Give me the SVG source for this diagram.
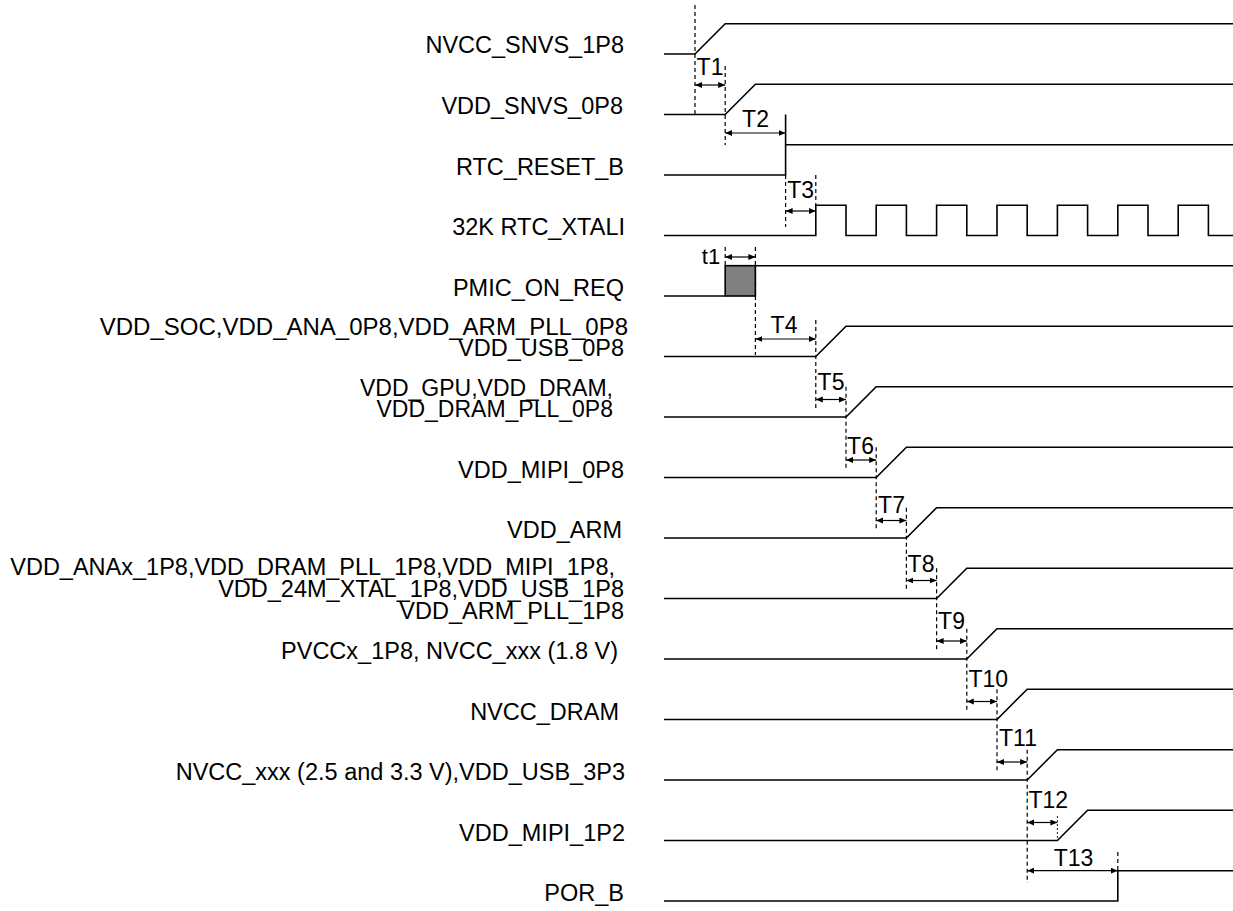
<svg xmlns="http://www.w3.org/2000/svg" width="1233" height="911" viewBox="0 0 1233 911">
<style>
.bg{fill:#ffffff}
.lbl{font-family:"Liberation Sans",Arial,sans-serif;font-size:23.5px;fill:#000;text-anchor:end}
.tl{font-family:"Liberation Sans",Arial,sans-serif;font-size:23px;fill:#000;text-anchor:middle}
.tls{font-family:"Liberation Sans",Arial,sans-serif;font-size:23px;fill:#000;text-anchor:start}
.sig{fill:none;stroke:#000;stroke-width:1.6}
.dash{fill:none;stroke:#000;stroke-width:1.2;stroke-dasharray:4 3}
.dot{fill:none;stroke:#000;stroke-width:0.9;stroke-dasharray:2 2}
.arr{fill:none;stroke:#000;stroke-width:1.2;marker-start:url(#ah);marker-end:url(#ah)}
.pulse{fill:#808080;stroke:#000;stroke-width:1.6}
</style>
<defs>
<marker id="ah" markerUnits="userSpaceOnUse" markerWidth="8" markerHeight="7" refX="7" refY="3" orient="auto-start-reverse">
<path d="M0,0 L7,3 L0,6 z" fill="#000"/>
</marker>
</defs>
<rect class="bg" x="0" y="0" width="1233" height="911"/>

<g id="NVCC_SNVS_1P8">
<text class="lbl" x="624" y="53">NVCC_SNVS_1P8</text>
<path class="sig" d="M664,54 H695 L725.2,23.7 H1233"/>
</g>
<g id="VDD_SNVS_0P8">
<text class="lbl" x="623" y="113.5">VDD_SNVS_0P8</text>
<path class="sig" d="M664,114.5 H725.2 L755.4,84.2 H1233"/>
</g>
<g id="RTC_RESET_B">
<text class="lbl" x="624" y="174.5">RTC_RESET_B</text>
<path class="sig" d="M664,175 H785.6 V114.5 M785.6,144.7 H1233"/>
</g>
<g id="RTC_XTALI">
<text class="lbl" x="625" y="235">32K RTC_XTALI</text>
<path class="sig" d="M664,235.5 H815.8 V205.2 H846 V235.5 H876.2 V205.2 H906.4 V235.5 H936.6 V205.2 H966.8 V235.5 H997 V205.2 H1027.2 V235.5 H1057.4 V205.2 H1087.6 V235.5 H1117.8 V205.2 H1148 V235.5 H1178.2 V205.2 H1208.4 V235.5 H1233"/>
</g>
<g id="PMIC_ON_REQ">
<text class="lbl" x="624" y="295.5">PMIC_ON_REQ</text>
<path class="sig" d="M664,296 H725.2"/>
<rect class="pulse" x="725.2" y="265.7" width="30.2" height="30.3"/>
<path class="sig" d="M755.4,265.7 H1233"/>
</g>
<g id="VDD_SOC">
<text class="lbl" x="628" y="335" style="font-size:24px">VDD_SOC,VDD_ANA_0P8,VDD_ARM_PLL_0P8</text>
<text class="lbl" x="624" y="356">VDD_USB_0P8</text>
<path class="sig" d="M664,356.5 H815.8 L846,326.2 H1233"/>
</g>
<g id="VDD_GPU">
<text class="lbl" x="613" y="395.5" style="font-size:23px">VDD_GPU,VDD_DRAM,</text>
<text class="lbl" x="613" y="417" style="font-size:23px">VDD_DRAM_PLL_0P8</text>
<path class="sig" d="M664,417 H846 L876.2,386.7 H1233"/>
</g>
<g id="VDD_MIPI_0P8">
<text class="lbl" x="624" y="477.5">VDD_MIPI_0P8</text>
<path class="sig" d="M664,477.5 H876.2 L906.4,447.2 H1233"/>
</g>
<g id="VDD_ARM">
<text class="lbl" x="622" y="538">VDD_ARM</text>
<path class="sig" d="M664,538 H906.4 L936.6,507.7 H1233"/>
</g>
<g id="VDD_1P8">
<text class="lbl" x="615" y="575">VDD_ANAx_1P8,VDD_DRAM_PLL_1P8,VDD_MIPI_1P8,</text>
<text class="lbl" x="624" y="597">VDD_24M_XTAL_1P8,VDD_USB_1P8</text>
<text class="lbl" x="624" y="619">VDD_ARM_PLL_1P8</text>
<path class="sig" d="M664,598.5 H936.6 L966.8,568.2 H1233"/>
</g>
<g id="PVCCx_1P8">
<text class="lbl" x="618" y="659">PVCCx_1P8, NVCC_xxx (1.8 V)</text>
<path class="sig" d="M664,659 H966.8 L997,628.7 H1233"/>
</g>
<g id="NVCC_DRAM">
<text class="lbl" x="619" y="719.5">NVCC_DRAM</text>
<path class="sig" d="M664,719.5 H997 L1027.2,689.2 H1233"/>
</g>
<g id="NVCC_3P3">
<text class="lbl" x="625" y="780">NVCC_xxx (2.5 and 3.3 V),VDD_USB_3P3</text>
<path class="sig" d="M664,780 H1027.2 L1057.4,749.7 H1233"/>
</g>
<g id="VDD_MIPI_1P2">
<text class="lbl" x="625" y="840.5">VDD_MIPI_1P2</text>
<path class="sig" d="M664,840.5 H1057.4 L1087.6,810.2 H1233"/>
</g>
<g id="POR_B">
<text class="lbl" x="624" y="901">POR_B</text>
<path class="sig" d="M664,901 H1117.8 V870.7 H1233"/>
</g>

<g id="connectors">
<path class="dash" d="M695,5 V114.5"/>
<path class="dash" d="M725.2,66 V145"/>
<path class="dash" d="M785.6,175 V227"/>
<path class="dash" d="M815.8,175 V205.2"/>
<path class="dash" d="M725.2,247 V265.7"/>
<path class="dash" d="M755.4,247 V355"/>
<path class="dash" d="M815.8,320 V410"/>
<path class="dash" d="M846,386.7 V470"/>
<path class="dash" d="M876.2,447.2 V530.5"/>
<path class="dash" d="M906.4,507.7 V591"/>
<path class="dash" d="M936.6,568.2 V651.5"/>
<path class="dash" d="M966.8,628.7 V712"/>
<path class="dash" d="M997,689.2 V772.5"/>
<path class="dash" d="M1027.2,749.7 V883"/>
<path class="dot" d="M1057.4,816 V840.5"/>
<path class="dash" d="M1117.8,852 V870.7"/>

<path class="arr" d="M695,85 H725.2"/>
<path class="arr" d="M725.2,133 H785.6"/>
<path class="arr" d="M785.6,211 H815.8"/>
<path class="arr" d="M725.2,257 H755.4"/>
<path class="arr" d="M755.4,339 H815.8"/>
<path class="arr" d="M815.8,399.5 H846"/>
<path class="arr" d="M846,460 H876.2"/>
<path class="arr" d="M876.2,520.5 H906.4"/>
<path class="arr" d="M906.4,580.5 H936.6"/>
<path class="arr" d="M936.6,641 H966.8"/>
<path class="arr" d="M966.8,701.5 H997"/>
<path class="arr" d="M997,762 H1027.2"/>
<path class="arr" d="M1027.2,822.5 H1057.4"/>
<path class="arr" d="M1027.2,870.7 H1117.8"/>

<text class="tl" x="710" y="75">T1</text>
<text class="tl" x="755.5" y="127">T2</text>
<text class="tl" x="800.7" y="198">T3</text>
<text class="tl" x="711" y="264" style="font-size:22px">t1</text>
<text class="tl" x="784" y="333">T4</text>
<text class="tl" x="831" y="390">T5</text>
<text class="tl" x="860.5" y="454">T6</text>
<text class="tl" x="891.5" y="513">T7</text>
<text class="tl" x="921" y="572">T8</text>
<text class="tl" x="951.5" y="629">T9</text>
<text class="tls" x="968.5" y="686.5">T10</text>
<text class="tls" x="999" y="746">T11</text>
<text class="tls" x="1028.5" y="808">T12</text>
<text class="tl" x="1073.5" y="866">T13</text>
</g>
</svg>
